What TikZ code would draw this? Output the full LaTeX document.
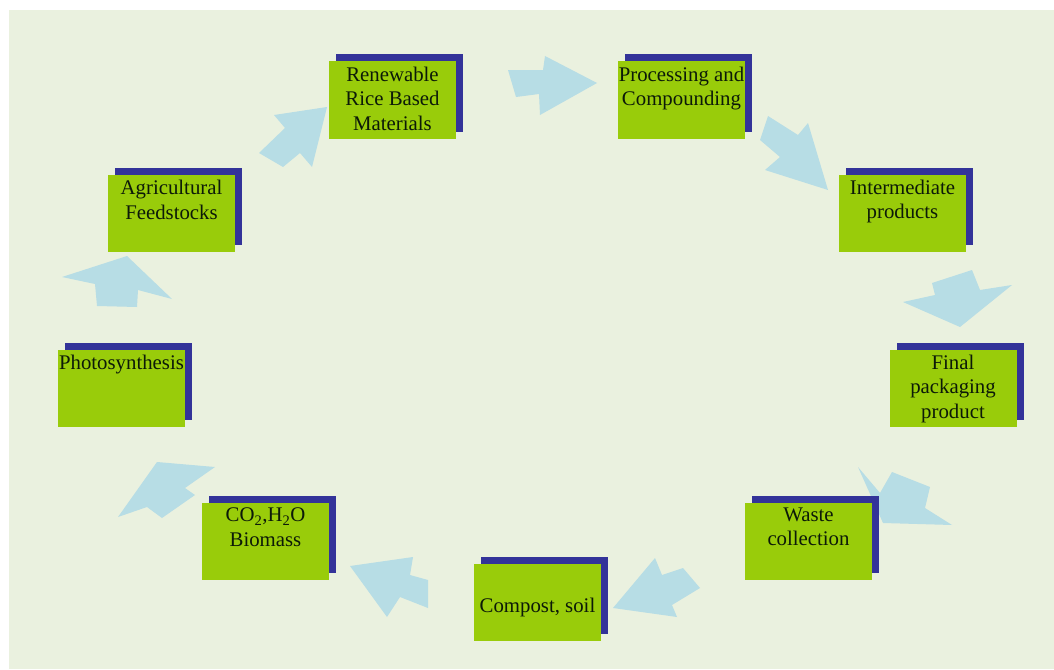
\documentclass[tikz,border=0pt]{standalone}
\usepackage{fontspec}
\setmainfont{Liberation Serif}
\usetikzlibrary{shadows}

\definecolor{panelbg}{HTML}{EAF1DF}
\definecolor{cardgreen}{HTML}{99CC0A}
\definecolor{cardblue}{HTML}{333399}
\definecolor{flowblue}{HTML}{B7DDE5}
\definecolor{inkdark}{HTML}{0C1A08}

\tikzset{
  card/.style={rectangle, fill=cardgreen, minimum width=127pt, minimum height=77pt,
    inner sep=0pt, outer sep=0pt,
    general shadow={fill=cardblue, shadow xshift=7pt, shadow yshift=7pt}},
  cardtext/.style={anchor=north, inner sep=0pt, align=center, text=inkdark,
    font=\fontsize{20.8}{24.5}\selectfont, yshift=-5pt},
  flow/.style={fill=flowblue, draw=none},
}

\begin{document}
\begin{tikzpicture}[x=1pt, y=-1pt]
  % page and panel
  \fill[white] (0,0) rectangle (1054,669);
  \fill[panelbg] (9,10) rectangle (1054,669);
  \useasboundingbox (0,0) rectangle (1054,669);

  % block arrows of the cycle
  \fill[flow] (327,107) -- (274,115) -- (285,128) -- (259,153) -- (283,167) -- (300,153) -- (312,167) -- cycle;
  \fill[flow] (597,83) -- (545,56) -- (543,70) -- (508,70) -- (516,97) -- (539,94) -- (540,115) -- cycle;
  \fill[flow] (828,190) -- (765,170) -- (780,157) -- (760,140) -- (768,116) -- (798,135) -- (808,123) -- cycle;
  \fill[flow] (960,327) -- (903,302) -- (935,295) -- (932,283) -- (972,270) -- (980,290) -- (1012,285) -- cycle;
  \fill[flow] (883,523) -- (858,467) -- (880,493) -- (892,472) -- (930,487) -- (925,508) -- (952,525) -- cycle;
  \fill[flow] (613,608) -- (655,558) -- (662,575) -- (683,568) -- (700,588) -- (672,605) -- (677,617) -- cycle;
  \fill[flow] (350,566) -- (413,557) -- (410,575) -- (428,580) -- (428,608) -- (400,597) -- (387,617) -- cycle;
  \fill[flow] (157,462) -- (215,467) -- (185,488) -- (195,495) -- (162,518) -- (147,507) -- (118,517) -- cycle;
  \fill[flow] (127,256) -- (172,299) -- (138,290) -- (137,307) -- (97,306) -- (95,284) -- (62,277) -- cycle;

  % stage cards
  \node[card] (renew)   at (392.5,100) {};
  \node[card] (proc)    at (681.5,100) {};
  \node[card] (inter)   at (902.5,213) {};
  \node[card] (final)   at (953,388)   {};
  \node[card] (waste)   at (808.5,541) {};
  \node[card] (compost) at (537.5,602) {};
  \node[card] (bio)     at (265.5,541.5) {};
  \node[card] (photo)   at (121.5,388) {};
  \node[card] (agri)    at (171.5,213.5) {};

  % card labels
  \node[cardtext] (renewtxt) at (renew.north) {Renewable\\Rice Based\\Materials};
  \node[cardtext] (proctxt)  at (proc.north)  {Processing and\\Compounding};
  \node[cardtext] (intertxt) at (inter.north) {Intermediate\\products};
  \node[cardtext] (finaltxt) at (final.north) {Final\\packaging\\product};
  \node[cardtext] (wastetxt) at (waste.north) {Waste\\collection};
  \node[cardtext, anchor=center, yshift=0pt] (comptxt) at (compost.center) {Compost, soil};
  \node[cardtext] (biotxt)   at (bio.north)   {CO\textsubscript{2},H\textsubscript{2}O\\Biomass};
  \node[cardtext] (phototxt) at (photo.north) {Photosynthesis};
  \node[cardtext] (agritxt)  at (agri.north)  {Agricultural\\Feedstocks};
\end{tikzpicture}
\end{document}
